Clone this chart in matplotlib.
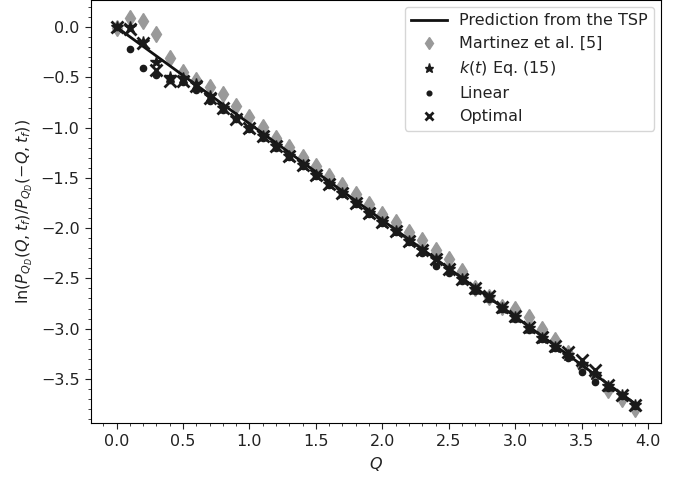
import matplotlib
matplotlib.use("Agg")
import matplotlib.pyplot as plt
from matplotlib.ticker import MultipleLocator

Q = [0.0, 0.1, 0.2, 0.3, 0.4, 0.5, 0.6, 0.7, 0.8, 0.9,
     1.0, 1.1, 1.2, 1.3, 1.4, 1.5, 1.6, 1.7, 1.8, 1.9,
     2.0, 2.1, 2.2, 2.3, 2.4, 2.5, 2.6, 2.7, 2.8, 2.9,
     3.0, 3.1, 3.2, 3.3, 3.4, 3.5, 3.6, 3.7, 3.8, 3.9]

pred_Q = [0.0, 3.9]
pred_val = [0.0, -3.745]

martinez = [-0.01, 0.09, 0.065, -0.07, -0.31, -0.45, -0.53, -0.60, -0.67, -0.78,
            -0.89, -0.99, -1.10, -1.19, -1.29, -1.38, -1.48, -1.57, -1.66, -1.755,
            -1.855, -1.94, -2.035, -2.115, -2.22, -2.31, -2.43, -2.60, -2.69, -2.78,
            -2.80, -2.88, -3.00, -3.11, -3.24, -3.38, -3.47, -3.61, -3.70, -3.80]

kt = [0.0, 0.0, -0.15, -0.35, -0.50, -0.51, -0.57, -0.69, -0.80, -0.90,
      -1.00, -1.08, -1.18, -1.28, -1.37, -1.47, -1.56, -1.65, -1.75, -1.85,
      -1.94, -2.03, -2.13, -2.22, -2.31, -2.41, -2.51, -2.61, -2.69, -2.79,
      -2.88, -2.99, -3.09, -3.18, -3.26, -3.35, -3.45, -3.57, -3.66, -3.76]

linear = [0.0, -0.215, -0.405, -0.48, -0.53, -0.55, -0.63, -0.74, -0.82, -0.91,
          -1.01, -1.10, -1.20, -1.29, -1.38, -1.48, -1.57, -1.66, -1.76, -1.86,
          -1.95, -2.04, -2.14, -2.25, -2.375, -2.45, -2.53, -2.63, -2.71, -2.80,
          -2.90, -3.01, -3.10, -3.19, -3.29, -3.43, -3.53, -3.59, -3.67, -3.77]

optimal = [0.0, -0.02, -0.16, -0.43, -0.54, -0.54, -0.59, -0.71, -0.80, -0.91,
           -1.00, -1.08, -1.18, -1.28, -1.37, -1.47, -1.56, -1.65, -1.75, -1.85,
           -1.94, -2.03, -2.13, -2.22, -2.31, -2.41, -2.51, -2.60, -2.68, -2.78,
           -2.87, -2.98, -3.08, -3.17, -3.23, -3.31, -3.41, -3.56, -3.66, -3.76]

plt.rcParams['text.color'] = '#222222'
plt.rcParams['axes.labelcolor'] = '#222222'
plt.rcParams['xtick.color'] = '#222222'
plt.rcParams['ytick.color'] = '#222222'

fig = plt.figure(figsize=(6.89, 4.78), dpi=100)
ax = fig.add_axes([0.1316, 0.1144, 0.8274, 0.8846])

ax.plot(pred_Q, pred_val, color='#111111', lw=2, label='Prediction from the TSP', zorder=3)
ax.plot(Q, martinez, 'd', color='#999999', ms=8, ls='none', label='Martinez et al. [5]', zorder=2)
ax.plot(Q, kt, '*', color='#1a1a1a', ms=9, ls='none', label=r'$k(t)$ Eq. (15)', zorder=4)
ax.plot(Q, linear, 'o', color='#1a1a1a', ms=4.5, ls='none', label='Linear', zorder=4)
ax.plot(Q, optimal, 'x', color='#1a1a1a', ms=8, mew=2, ls='none', label='Optimal', zorder=5)

ax.set_xlim(-0.195, 4.095)
ax.set_ylim(-3.942, 0.265)
ax.xaxis.set_major_locator(MultipleLocator(0.5))
ax.xaxis.set_minor_locator(MultipleLocator(0.1))
ax.yaxis.set_major_locator(MultipleLocator(0.5))
ax.yaxis.set_minor_locator(MultipleLocator(0.1))
ax.tick_params(labelsize=11.5, length=4.5)
ax.tick_params(which='minor', length=2.5)

ax.set_xlabel('$Q$', fontsize=11.5)
ax.set_ylabel(r'$\ln(P_{Q_D}(Q,t_f)/P_{Q_D}(-Q,t_f))$', fontsize=11.5)

ax.legend(loc='upper right', fontsize=11.5, handlelength=2.2, borderaxespad=0.4,
          markerscale=0.75)

fig.savefig('out.png', dpi=100)
